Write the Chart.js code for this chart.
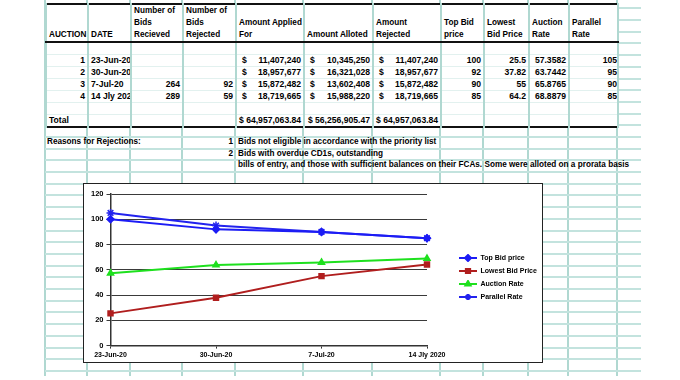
<!DOCTYPE html>
<html>
<head>
<meta charset="utf-8">
<script src="https://cdn.jsdelivr.net/npm/chart.js@4.4.0/dist/chart.umd.min.js"></script>
<style>
    html, body { margin: 0; padding: 0; background: #fff; }
    body {
        width: 680px; height: 380px; position: relative; overflow: hidden;
        font-family: "Liberation Sans", Arial, sans-serif; font-weight: bold; font-size: 8.2px; color: #000;
    }
    .vline { position: absolute; width: 2px; background: #b0d8d1; }
    .hline { position: absolute; height: 2px; background: #c3e3de; }
    #auctionTable {
        position: absolute; left: 45px; top: 3px; width: 573px;
        border-collapse: collapse; table-layout: fixed; background: #fff;
        border: 2px solid #111; font-size: 8.6px;
    }
    #auctionTable td {
        border-left: 2px solid #b0d8d1; border-right: 2px solid #b0d8d1;
        border-top: 1px solid #e2f1ef; border-bottom: 1px solid #e2f1ef;
        height: 11px; line-height: 11px; padding: 0 2px;
        white-space: nowrap; overflow: hidden; text-overflow: clip;
    }
    #auctionTable tr.head td { height: 35px; line-height: 12px; vertical-align: bottom; border-bottom: 2px solid #111; font-size: 8.2px; }
    #auctionTable td.r { text-align: right; }
    .money { display: flex; justify-content: space-between; padding-left: 3px; }
    .note { position: absolute; white-space: nowrap; line-height: 12px; }
    #chartBox {
        position: absolute; left: 83px; top: 183px; width: 460px; height: 180px;
        box-sizing: border-box; border: 1.5px solid #222; background: #fff;
    }
</style>
</head>
<body>
<script>
    // Values read from the sheet
    const auctionNo = [1, 2, 3, 4];
    const auctionDates = ['23-Jun-20', '30-Jun-20', '7-Jul-20', '14 Jly 2020'];
    const bidsReceived = [null, null, 264, 289];
    const bidsRejected = [null, null, 92, 59];
    const amountApplied = [11407240, 18957677, 15872482, 18719665];
    const amountAlloted = [10345250, 16321028, 13602408, 15988220];
    const amountRejected = [11407240, 18957677, 15872482, 18719665];
    const topBidPrice = [100, 92, 90, 85];
    const lowestBidPrice = [25.5, 37.82, 55, 64.2];
    const auctionRate = [57.3582, 63.7442, 65.8765, 68.8879];
    const parallelRate = [105, 95, 90, 85];
    const totalApplied = '$ 64,957,063.84';
    const totalAlloted = '$ 56,256,905.47';
    const totalRejected = '$ 64,957,063.84';
    const yTicks = [0, 20, 40, 60, 80, 100, 120];

    const headers = [
        'AUCTION', 'DATE', 'Number of<br>Bids<br>Recieved', 'Number of<br>Bids<br>Rejected',
        'Amount Applied<br>For', 'Amount Alloted', 'Amount<br>Rejected', 'Top Bid<br>price',
        'Lowest<br>Bid Price', 'Auction<br>Rate', 'Parallel<br>Rate'
    ];
</script>

<div id="sheet"></div>
<table id="auctionTable"></table>

<div class="note" style="left:47px; top:136px;">Reasons for Rejections:</div>
<div class="note" style="left:200px; top:136px; width:33px; text-align:right;">1</div>
<div class="note" style="left:238px; top:136px;">Bids not eligible in accordance with the priority list</div>
<div class="note" style="left:200px; top:148px; width:33px; text-align:right;">2</div>
<div class="note" style="left:238px; top:148px;">Bids with overdue CD1s, outstanding</div>
<div class="note" style="left:238px; top:159px;">bills of entry, and those with sufficient balances on their FCAs. Some were alloted on a prorata basis</div>

<div id="chartBox"><canvas id="auctionChart" width="457" height="177"></canvas></div>

<script>
    // spreadsheet grid
    const colEdges = [45, 87, 130, 182, 235, 303, 372, 440, 483, 528, 568, 617];
    const sheet = document.getElementById('sheet');
    colEdges.forEach(x => {
        const v = document.createElement('div');
        v.className = 'vline';
        v.style.left = (x - 1) + 'px';
        v.style.top = '0px';
        v.style.height = '376px';
        sheet.appendChild(v);
    });
    for (let y = 8.3; y < 378; y += 11.7) {
        const h = document.createElement('div');
        h.className = 'hline';
        h.style.left = '45px';
        h.style.width = '596px';
        h.style.top = Math.round(y - 1) + 'px';
        sheet.appendChild(h);
    }

    // table
    const table = document.getElementById('auctionTable');
    const fmt = n => n.toLocaleString('en-US');
    const money = n => `<div class="money"><span>$</span><span>${fmt(n)}</span></div>`;
    let html = '<colgroup>';
    for (let i = 0; i < colEdges.length - 1; i++) {
        html += `<col style="width:${colEdges[i + 1] - colEdges[i]}px">`;
    }
    html += '</colgroup>';
    html += '<tr class="head">' + headers.map(h => `<td>${h}</td>`).join('') + '</tr>';
    const blank = '<tr>' + headers.map(() => '<td></td>').join('') + '</tr>';
    html += blank;
    auctionNo.forEach((n, i) => {
        html += '<tr>' +
            `<td class="r">${n}</td>` +
            `<td>${auctionDates[i]}</td>` +
            `<td class="r">${bidsReceived[i] ?? ''}</td>` +
            `<td class="r">${bidsRejected[i] ?? ''}</td>` +
            `<td>${money(amountApplied[i])}</td>` +
            `<td>${money(amountAlloted[i])}</td>` +
            `<td>${money(amountRejected[i])}</td>` +
            `<td class="r">${topBidPrice[i]}</td>` +
            `<td class="r">${lowestBidPrice[i]}</td>` +
            `<td class="r">${auctionRate[i]}</td>` +
            `<td class="r" style="padding-right:0">${parallelRate[i]}</td>` +
            '</tr>';
    });
    html += blank;
    html += '<tr><td>Total</td><td></td><td></td><td></td>' +
        `<td class="r">${totalApplied}</td><td class="r">${totalAlloted}</td><td class="r">${totalRejected}</td>` +
        '<td></td><td></td><td></td><td></td></tr>';
    table.innerHTML = html;

    // chart
    const series = [
        { label: 'Top Bid price', data: topBidPrice, color: '#1c1cf5', point: 'rectRot', radius: 3.5 },
        { label: 'Lowest Bid Price', data: lowestBidPrice, color: '#b01e1e', point: 'rect', radius: 3.5 },
        { label: 'Auction Rate', data: auctionRate, color: '#1ee01e', point: 'triangle', radius: 3.5 },
        { label: 'Parallel Rate', data: parallelRate, color: '#2323ee', point: 'star', radius: 4 }
    ];

    function legendSwatch(s) {
        const c = document.createElement('canvas');
        c.width = 44; c.height = 8;
        const g = c.getContext('2d');
        g.strokeStyle = s.color;
        g.fillStyle = s.color;
        g.lineWidth = 2;
        g.beginPath();
        g.moveTo(26, 4);
        g.lineTo(44, 4);
        g.stroke();
        Chart.helpers.drawPoint(g, { pointStyle: s.point, radius: 3, borderWidth: 1.5, rotation: 0 }, 35, 4);
        return c;
    }

    const tickFont = { family: '"Liberation Sans", Arial, sans-serif', size: 7, weight: 'bold' };
    const yTickFont = { family: '"Liberation Sans", Arial, sans-serif', size: 7.5, weight: 'bold' };

    new Chart(document.getElementById('auctionChart'), {
        type: 'line',
        data: {
            labels: auctionDates,
            datasets: series.map(s => ({
                label: s.label,
                data: s.data,
                borderColor: s.color,
                backgroundColor: s.color,
                borderWidth: 2,
                pointStyle: s.point,
                pointRadius: s.radius,
                pointBorderWidth: 1.5,
                tension: 0,
                fill: false
            }))
        },
        options: {
            responsive: false,
            animation: false,
            devicePixelRatio: 1,
            layout: { padding: { left: 4, top: 10, right: 1, bottom: 0 } },
            scales: {
                x: {
                    offset: false,
                    grid: { drawOnChartArea: false, drawTicks: true, tickLength: 3, color: '#333' },
                    border: { color: '#333', width: 1.5 },
                    ticks: { font: tickFont, color: '#000', maxRotation: 0, padding: 2, autoSkip: false }
                },
                y: {
                    min: 0,
                    max: 120,
                    afterBuildTicks: axis => { axis.ticks = yTicks.map(v => ({ value: v })); },
                    grid: { color: '#3a3a3a', lineWidth: 1, tickLength: 4 },
                    border: { color: '#333', width: 1.5 },
                    ticks: { font: yTickFont, color: '#000', padding: 3 }
                }
            },
            plugins: {
                tooltip: { enabled: false },
                legend: {
                    position: 'right',
                    labels: {
                        font: tickFont,
                        color: '#000',
                        usePointStyle: true,
                        pointStyleWidth: 44,
                        padding: 6,
                        generateLabels: chart => {
                            const items = Chart.defaults.plugins.legend.labels.generateLabels(chart);
                            items.forEach((it, i) => { it.pointStyle = legendSwatch(series[i]); });
                            return items;
                        }
                    }
                }
            }
        }
    });
</script>
</body>
</html>
